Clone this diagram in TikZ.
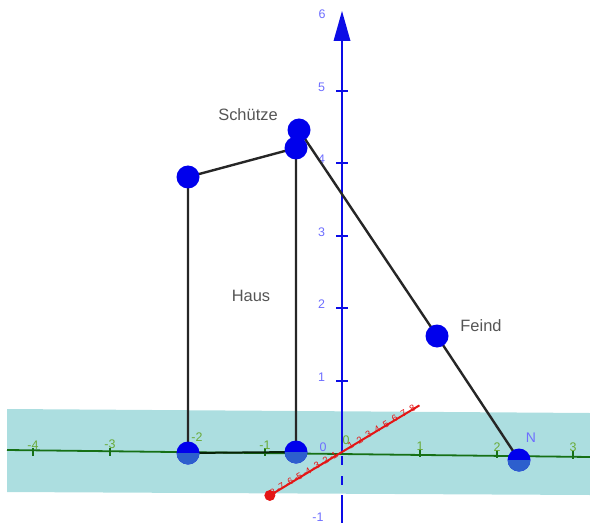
\documentclass[tikz,border=0pt]{standalone}
\usepackage{fontspec}
\setmainfont{Liberation Sans}
\usetikzlibrary{arrows.meta}
\usepackage{xcolor}

\definecolor{planecol}{RGB}{172,222,224}
\definecolor{yaxcol}{RGB}{22,112,22}
\definecolor{ylblcol}{RGB}{105,170,55}
\definecolor{zaxcol}{RGB}{12,12,230}
\definecolor{zlblcol}{RGB}{110,110,255}
\definecolor{xaxcol}{RGB}{228,22,22}
\definecolor{ptblue}{RGB}{0,0,236}
\definecolor{lowblue}{RGB}{45,95,205}
\definecolor{txtgray}{RGB}{85,85,85}

\pgfdeclarelayer{plane}
\pgfdeclarelayer{wires}
\pgfsetlayers{plane,wires,main}

\begin{document}
\begin{tikzpicture}[
  x=1bp, y=-1bp,
  font=\fontsize{12.5}{14}\selectfont,
  pt/.style={circle, fill=ptblue, minimum size=23bp, inner sep=0pt},
  halfpt/.style={pt, path picture={\fill[lowblue]
      (path picture bounding box.west) rectangle (path picture bounding box.south east);}},
  seg/.style={line width=2.4bp, black!85},
  lbl/.style={text=txtgray, font=\fontsize{16.5}{20}\selectfont},
  ylbl/.style={text=ylblcol, inner sep=0pt},
  zlbl/.style={text=zlblcol, inner sep=0pt},
]
  \useasboundingbox (0,0) rectangle (590,523);

  \begin{pgfonlayer}{plane}
    % ground plane
    \fill[planecol] (7,409) -- (590,413) -- (590,495) -- (7,492) -- cycle;
    % green axis with ticks
    \draw[yaxcol, line width=1.8bp] (7,450) -- (590,457);
    \foreach \px/\py/\t in {33/452/-4, 110/452/-3, 265/452/-1, 420/453/1, 497/454/2, 573/455/3}
      \draw[yaxcol, line width=1.8bp] (\px,\py-4) -- (\px,\py+4)
        node[ylbl, above=6bp] {\t};
    \node[ylbl] (ym2) at (197,437) {-2};
    \node[ylbl] (y0) at (346,440) {0};
    % blue axis
    \draw[zaxcol, line width=2.2bp] (342,40) -- (342,453);
    \draw[zaxcol, line width=2.2bp, dash pattern=on 9bp off 11bp] (342,456) -- (342,494);
    \draw[zaxcol, line width=2.2bp] (342,495) -- (342,523);
    \fill[zaxcol] (342,11) -- (350.5,41) -- (333.5,41) -- cycle;
    \foreach \py/\t in {91/5, 163/4, 236/3, 308/2, 381/1}
      \draw[zaxcol, line width=2bp] (336,\py) -- (348,\py)
        node[zlbl, at start, left=10bp, yshift=4bp] {\t};
    \node[zlbl] (z6) at (322,14) {6};
    \node[zlbl] (z0) at (323,447) {0};
    \node[zlbl] (zm1) at (318,517) {-1};
    % red axis seen end-on
    \begin{scope}[shift={(342,452)}, x={(8.8bp,5.3bp)}]
      \draw[xaxcol, line width=2bp] (-8.2,0) -- (8.8,0);
      \fill[xaxcol] (-8.2,0) circle (5.5bp);
      \foreach \i in {-8,...,-1,1,2,...,8}
        \node[text=xaxcol, font=\fontsize{9.5}{10}\selectfont, inner sep=0pt,
              rotate=31] at (\i,-1.5) {\i};
    \end{scope}
  \end{pgfonlayer}

  % points
  \node[pt] (roof) at (188,177) {};
  \node[halfpt] (foot) at (188,453) {};
  \node[pt] (top) at (296,148) {};
  \node[halfpt] (base) at (296,452) {};
  \node[pt] (shooter) at (299,130) {};
  \node[pt] (enemy) at (437,336) {};
  \node[halfpt] (north) at (519,460) {};

  % labels
  \node[lbl] (lshooter) at (248,115) {Schütze};
  \node[lbl] (lhouse) at (251,296) {Haus};
  \node[lbl] (lenemy) at (481,326) {Feind};
  \node[zlbl, font=\fontsize{14}{16}\selectfont] (lnorth) at (531,438) {N};

  \begin{pgfonlayer}{wires}
    \draw[seg] (foot.center) -- (roof.center) -- (top.center) -- (base.center);
    \draw[line width=2bp, black!70!yaxcol] (foot.center) -- (base.center);
    \draw[seg] (shooter.center) -- (enemy.center) -- (north.center);
  \end{pgfonlayer}
\end{tikzpicture}
\end{document}
